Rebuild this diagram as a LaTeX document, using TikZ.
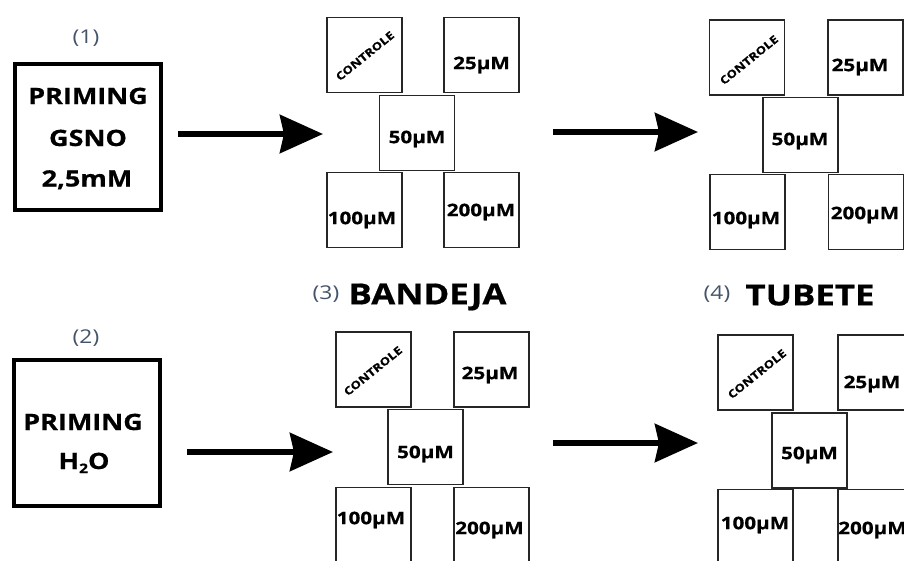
\documentclass[tikz,border=0pt]{standalone}
\usepackage{fontspec}
\usetikzlibrary{arrows.meta}
\newfontfamily\bfont[FakeStretch=1.2, BoldFeatures={FakeBold=0.6}]{Open Sans}
\definecolor{numcol}{HTML}{44546A}
\definecolor{boxcol}{HTML}{262626}
\tikzset{
  bigbox/.style={draw=black, line width=3.5pt, minimum width=146pt, minimum height=146pt, inner sep=0pt},
  cell/.style={draw=boxcol, line width=1.8pt, minimum width=75pt, minimum height=75pt, inner sep=0pt},
  bigtxt/.style={font=\bfont\bfseries\fontsize{22.5}{27}\selectfont, inner sep=0pt, text height=16pt, text depth=0pt},
  celltxt/.style={font=\bfont\bfseries\fontsize{17.2}{20}\selectfont, inner sep=0pt, text height=12.3pt, text depth=0pt},
  ctrltxt/.style={font=\bfont\bfseries\fontsize{11}{12}\selectfont, inner sep=0pt, text height=7.8pt, text depth=0pt, rotate=39},
  titletxt/.style={font=\bfont\bfseries\fontsize{29}{34}\selectfont, inner sep=0pt, text height=20.7pt, text depth=0pt},
  numtxt/.style={font=\bfont\fontsize{19}{23}\selectfont, text=numcol, inner sep=0pt, text height=13.6pt, text depth=0pt},
  flow/.style={line width=6pt, -{Stealth[length=43pt, width=38pt, inset=4pt]}},
}
\begin{document}
\begin{tikzpicture}[x=1pt, y=-1pt]
\useasboundingbox (0,0) rectangle (904,560);
\clip (0,0) rectangle (904,560);
\fill[white] (0,0) rectangle (904,560);

% Priming boxes
\node[numtxt] (n1) at (86,37) {(1)};
\node[bigbox] (p1) at (88,137) {};
\node[bigtxt] (p1a) at (88,96) {PRIMING};
\node[bigtxt] (p1b) at (88,138) {GSNO};
\node[bigtxt] (p1c) at (87,178.5) {2,5mM};

\node[numtxt] (n2) at (86,337) {(2)};
\node[bigbox] (p2) at (87,433) {};
\node[bigtxt] (p2a) at (83,422) {PRIMING};
\node[bigtxt] (p2b) at (84,461) {H\raisebox{-4pt}{\fontsize{13}{15}\selectfont 2}O};

% Group 1 (top middle)
\node[cell] (g1c) at (364.5,55) {};
\node[cell] (g1a) at (481.5,55) {};
\node[cell] (g1b) at (417,133) {};
\node[cell] (g1d) at (364.5,210) {};
\node[cell] (g1e) at (481.5,210) {};
\node[ctrltxt] (t1c) at (365,56) {CONTROLE};
\node[celltxt] (t1a) at (481.5,63) {25µM};
\node[celltxt] (t1b) at (417,137) {50µM};
\node[celltxt] (t1d) at (362,218) {100µM};
\node[celltxt] (t1e) at (481,210) {200µM};

% Group 2 (top right)
\node[cell] (g2c) at (747,57.5) {};
\node[cell] (g2a) at (865.5,57.5) {};
\node[cell] (g2b) at (800.5,135) {};
\node[cell] (g2d) at (747.5,212) {};
\node[cell] (g2e) at (866,212) {};
\node[ctrltxt] (t2c) at (749,60) {CONTROLE};
\node[celltxt] (t2a) at (860,65) {25µM};
\node[celltxt] (t2b) at (800,139) {50µM};
\node[celltxt] (t2d) at (746,218) {100µM};
\node[celltxt] (t2e) at (865,213) {200µM};

% Titles
\node[numtxt] (n3) at (326,293) {(3)};
\node[titletxt] (ti3) at (427.5,294) {BANDEJA};
\node[numtxt] (n4) at (717,293) {(4)};
\node[titletxt] (ti4) at (810,295) {TUBETE};

% Group 3 (bottom middle)
\node[cell] (g3c) at (373.5,369.5) {};
\node[cell] (g3a) at (491.5,369.5) {};
\node[cell] (g3b) at (425.5,447) {};
\node[cell] (g3d) at (373.5,525) {};
\node[cell] (g3e) at (491.5,525) {};
\node[ctrltxt] (t3c) at (373,371) {CONTROLE};
\node[celltxt] (t3a) at (490,373) {25µM};
\node[celltxt] (t3b) at (425.5,452) {50µM};
\node[celltxt] (t3d) at (371,518) {100µM};
\node[celltxt] (t3e) at (489.5,528) {200µM};

% Group 4 (bottom right)
\node[cell] (g4c) at (755.5,372.5) {};
\node[cell] (g4a) at (875.5,372.5) {};
\node[cell] (g4b) at (809.5,450.5) {};
\node[cell] (g4d) at (755.5,527) {};
\node[cell] (g4e) at (875.5,527) {};
\node[ctrltxt] (t4c) at (757,374) {CONTROLE};
\node[celltxt] (t4a) at (872,382) {25µM};
\node[celltxt] (t4b) at (809.5,453) {50µM};
\node[celltxt] (t4d) at (755,523) {100µM};
\node[celltxt] (t4e) at (872.5,528) {200µM};

% Arrows
\coordinate (a1s) at (178,134); \coordinate (a1e) at (323,134);
\coordinate (a2s) at (553,132); \coordinate (a2e) at (698,132);
\coordinate (a3s) at (187,452); \coordinate (a3e) at (333,452);
\coordinate (a4s) at (553,443); \coordinate (a4e) at (698,443);
\draw[flow] (a1s) -- (a1e);
\draw[flow] (a2s) -- (a2e);
\draw[flow] (a3s) -- (a3e);
\draw[flow] (a4s) -- (a4e);
\end{tikzpicture}
\end{document}
